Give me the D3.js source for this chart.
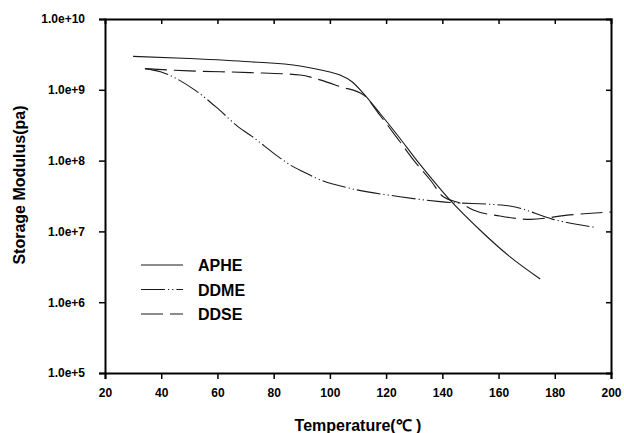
<!DOCTYPE html>
<meta charset="utf-8">
<script src="https://d3js.org/d3.v7.min.js"></script>
<style>
  body { margin: 0; background: #fff; }
  text { font-family: "Liberation Sans", Arial, sans-serif; font-weight: bold; fill: #000; }
</style>
<div id="chart"></div>
<script>
// series: [temperature, modulus]
const aphe = [[30, 2.97e9], [50, 2.77e9], [71.6, 2.49e9], [89.4, 2.17e9], [100, 1.78e9], [103.6, 1.62e9],
  [108, 1.29e9], [111.9, 8.9e8], [118, 4.55e8], [124.9, 2.07e8], [130, 1.12e8], [136, 5.7e7],
  [142.7, 2.78e7], [154.5, 9.5e6], [164, 4.4e6], [174.8, 2.13e6]];
const ddme = [[34.2, 1.99e9], [40, 1.78e9], [52, 9.9e8], [60, 5.5e8], [67.4, 3.0e8], [71.6, 2.3e8],
  [81.6, 1.14e8], [85.8, 8.7e7], [91.2, 6.75e7], [95.3, 5.6e7], [107.2, 4.06e7], [124.9, 3.09e7],
  [139.2, 2.63e7], [164, 2.29e7], [179.4, 1.48e7], [194.3, 1.14e7]];
const ddse = [[34.2, 1.99e9], [50, 1.85e9], [71.6, 1.75e9], [89.4, 1.62e9], [96.5, 1.38e9], [103.6, 1.11e9],
  [111.9, 8.5e8], [118, 4.27e8], [125, 1.83e8], [130, 9.9e7], [136, 5.15e7], [140, 3.16e7],
  [147, 2.44e7], [151, 2.0e7], [160.5, 1.65e7], [171.2, 1.48e7], [185.4, 1.71e7], [200, 1.88e7]];
const seriesNames = ["APHE", "DDME", "DDSE"];
const xTicks = [20, 40, 60, 80, 100, 120, 140, 160, 180, 200];
const yTicks = [1e5, 1e6, 1e7, 1e8, 1e9, 1e10];
const yTickLabels = ["1.0e+5", "1.0e+6", "1.0e+7", "1.0e+8", "1.0e+9", "1.0e+10"];

const W = 624, H = 433;
const margin = { top: 19, right: 13, bottom: 60, left: 105 },
  width = W - margin.left - margin.right,
  height = H - margin.top - margin.bottom;

const svg = d3.select("#chart").append("svg")
  .attr("width", W).attr("height", H);
const g = svg.append("g").attr("transform", `translate(${margin.left},${margin.top})`);

const x = d3.scaleLinear().domain([20, 200]).range([0, width]);
const y = d3.scaleLog().domain([1e5, 1e10]).range([height, 0]);

// curves
const line = d3.line().x(d => x(d[0])).y(d => y(d[1])).curve(d3.curveMonotoneX);
const dashes = ["none", "24,3,1.2,3,1.2,3", "22,7"];
[aphe, ddme, ddse].forEach((s, i) => {
  g.append("path").datum(s)
    .attr("d", line)
    .attr("fill", "none")
    .attr("stroke", "#1a1a1a")
    .attr("stroke-width", 1.1)
    .attr("stroke-dasharray", dashes[i]);
});

// axes: outward ticks left/bottom, inward ticks top/right
const axBottom = g.append("g").attr("transform", `translate(0,${height})`)
  .call(d3.axisBottom(x).tickValues(xTicks).tickSize(6).tickPadding(9));
const axLeft = g.append("g")
  .call(d3.axisLeft(y).tickValues(yTicks).tickFormat((d, i) => yTickLabels[i]).tickSize(6).tickPadding(14));
const axTop = g.append("g")
  .call(d3.axisTop(x).tickValues(xTicks).tickSize(-5).tickFormat(""));
const axRight = g.append("g").attr("transform", `translate(${width},0)`)
  .call(d3.axisRight(y).tickValues(yTicks).tickSize(-5).tickFormat(""));

[axBottom, axLeft, axTop, axRight].forEach(a => {
  a.select(".domain").attr("stroke", "#000").attr("stroke-width", 2);
  a.selectAll(".tick line").attr("stroke", "#000").attr("stroke-width", 1.5);
  a.selectAll("text").style("font-size", "12px");
});
axTop.selectAll(".tick").filter((d, i) => i === 0 || i === xTicks.length - 1).remove();
axRight.selectAll(".tick").filter((d, i) => i === 0 || i === yTicks.length - 1).remove();

// axis titles
svg.append("text")
  .attr("x", margin.left + width / 2).attr("y", 431)
  .attr("text-anchor", "middle").style("font-size", "16px")
  .text("Temperature(℃ )");
svg.append("text")
  .attr("transform", `translate(25,185) rotate(-90)`)
  .attr("text-anchor", "middle").style("font-size", "16px")
  .text("Storage Modulus(pa)");

// legend
const legend = svg.append("g");
seriesNames.forEach((name, i) => {
  const ly = 265 + i * 24.5;
  legend.append("line")
    .attr("x1", 141).attr("x2", 183).attr("y1", ly).attr("y2", ly)
    .attr("stroke", "#1a1a1a").attr("stroke-width", 1.1)
    .attr("stroke-dasharray", dashes[i]);
  legend.append("text")
    .attr("x", 198).attr("y", ly + 6)
    .style("font-size", "16px")
    .text(name);
});
</script>
